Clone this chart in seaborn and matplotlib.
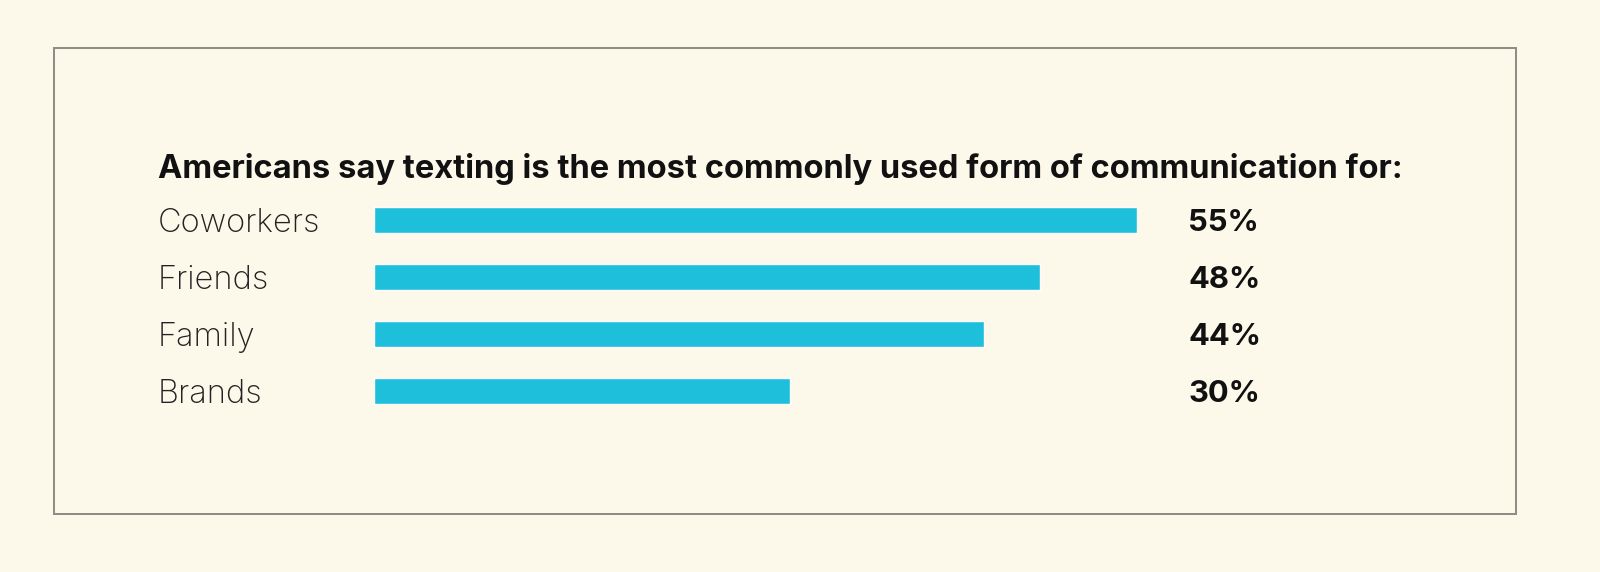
import matplotlib
matplotlib.use("Agg")
import matplotlib.pyplot as plt
import matplotlib.patches as mpatches
import pandas as pd
import seaborn as sns

# data
groups = ["Coworkers", "Friends", "Family", "Brands"]
shares = [55, 48, 44, 30]
title = "Americans say texting is the most commonly used form of communication for:"

bg = "#FCF9EA"
bar_color = "#1EBFDB"

df = pd.DataFrame({"group": groups, "share": shares})

sns.set_theme(style="white")
plt.rcParams["font.family"] = ["Inter", "DejaVu Sans"]

W, H = 1600, 572
fig = plt.figure(figsize=(16, 5.72), dpi=100, facecolor=bg)

# outer frame
fig.patches.append(mpatches.Rectangle((54 / W, 1 - 514 / H), (1516 - 54) / W, (514 - 48) / H,
                                      transform=fig.transFigure, fill=False,
                                      edgecolor="#8C8C84", linewidth=1.4))

ax = fig.add_axes([374 / W, 1 - 420 / H, (1137 - 374) / W, 229 / H])
ax.set_facecolor(bg)
sns.barplot(data=df, x="share", y="group", color=bar_color, width=0.45,
            saturation=1, ax=ax)
ax.set_xlim(0, 55)
ax.set_ylim(3.5, -0.5)
sns.despine(ax=ax, left=True, bottom=True)
ax.set_xticks([])
ax.set_xlabel("")
ax.set_ylabel("")
ax.tick_params(axis="y", length=0, pad=(374 - 158) * 0.72)
for lbl in ax.get_yticklabels():
    lbl.set_horizontalalignment("left")
    lbl.set_verticalalignment("center_baseline")
    lbl.set_fontsize(23.5)
    lbl.set_fontweight("light")
    lbl.set_color("#222222")

for i, v in enumerate(shares):
    ax.text((1188 - 374) / (1137 - 374), i, f"{v}%", transform=ax.get_yaxis_transform(),
            ha="left", va="center_baseline", fontsize=22.3, fontweight="bold", color="#111111")

fig.text(158 / W, 1 - 178 / H, title, ha="left", va="baseline", fontsize=23.5,
         fontweight="bold", color="#111111")

fig.savefig("out.png", dpi=100, facecolor=bg)
